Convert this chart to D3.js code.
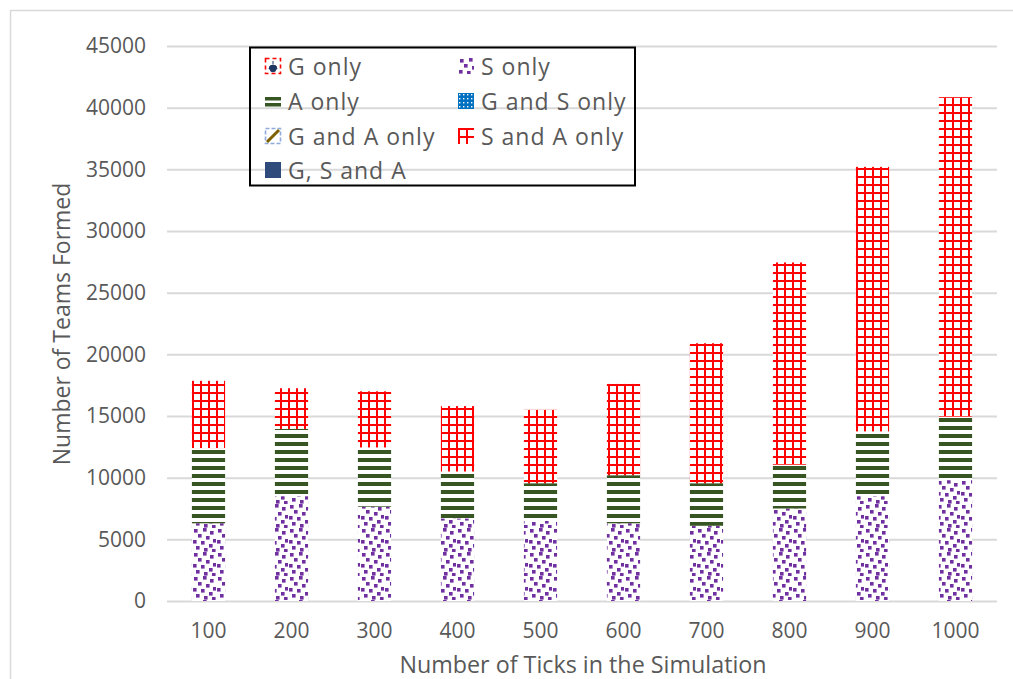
<!DOCTYPE html>
<html>
<head>
<meta charset="utf-8">
<script src="https://cdn.jsdelivr.net/npm/d3@7"></script>
<style>
  body { margin: 0; background: #fff; }
  svg { display: block; }
  text { font-family: "Open Sans", sans-serif; }
</style>
</head>
<body>
<svg id="chart" width="1013" height="679"></svg>
<script>
// Simulation length (ticks) on the category axis
const ticks = ["100", "200", "300", "400", "500", "600", "700", "800", "900", "1000"];

// Number of teams formed per composition
const gOnly    = [0, 0, 0, 0, 0, 0, 0, 0, 0, 0];
const sOnly    = [6300, 8500, 7650, 6700, 6500, 6300, 6100, 7500, 8500, 9800];
const aOnly    = [6100, 5450, 4800, 3800, 3050, 3900, 3450, 3550, 5250, 5150];
const gsOnly   = [0, 0, 0, 0, 0, 0, 0, 0, 0, 0];
const gaOnly   = [0, 0, 0, 0, 0, 0, 0, 0, 0, 0];
const saOnly   = [5450, 3300, 4550, 5300, 5950, 7400, 11350, 16400, 21450, 25900];
const gsaAll   = [0, 0, 0, 0, 0, 0, 0, 0, 0, 0];

const yTicks = [0, 5000, 10000, 15000, 20000, 25000, 30000, 35000, 40000, 45000];

const seriesNames = ["G only", "S only", "A only", "G and S only", "G and A only", "S and A only", "G, S and A"];
const seriesValues = [gOnly, sOnly, aOnly, gsOnly, gaOnly, saOnly, gsaAll];

const rows = ticks.map((t, i) => {
  const r = { tick: t };
  seriesNames.forEach((n, k) => { r[n] = seriesValues[k][i]; });
  return r;
});

const svg = d3.select("#chart");
const W = 1013, H = 679;
const plot = { left: 167, right: 997, top: 46, bottom: 601 };
const axisGrey = "#595959";
const gridGrey = "#d9d9d9";

// ---------- fill patterns ----------
const defs = svg.append("defs");

// purple confetti
const confetti = defs.append("pattern").attr("id", "pat-s")
  .attr("patternUnits", "userSpaceOnUse").attr("width", 24).attr("height", 24);
confetti.append("rect").attr("width", 24).attr("height", 24).attr("fill", "#fff");
[[2,1],[11,0],[18,3],[6,6],[14,8],[21,11],[1,12],[9,13],[17,16],[4,18],[12,20],[20,21]]
  .forEach(([x, y]) => confetti.append("rect").attr("x", x).attr("y", y)
    .attr("width", 3.6).attr("height", 3.6).attr("fill", "#7030a0"));

// dark green wide horizontal stripes
const stripes = defs.append("pattern").attr("id", "pat-a")
  .attr("patternUnits", "userSpaceOnUse").attr("width", 8).attr("height", 8);
stripes.append("rect").attr("width", 8).attr("height", 8).attr("fill", "#fff");
stripes.append("rect").attr("y", 2).attr("width", 8).attr("height", 4).attr("fill", "#375623");

// red grid
const grid = defs.append("pattern").attr("id", "pat-sa")
  .attr("patternUnits", "userSpaceOnUse").attr("width", 8).attr("height", 8);
grid.append("rect").attr("width", 8).attr("height", 8).attr("fill", "#fff");
grid.append("rect").attr("x", 0).attr("width", 2).attr("height", 8).attr("fill", "#ff0000");
grid.append("rect").attr("y", 0).attr("width", 8).attr("height", 2).attr("fill", "#ff0000");

// blue dotted
const dots = defs.append("pattern").attr("id", "pat-gs")
  .attr("patternUnits", "userSpaceOnUse").attr("width", 4).attr("height", 4);
dots.append("rect").attr("width", 4).attr("height", 4).attr("fill", "#0070c0");
dots.append("rect").attr("x", 1).attr("y", 1).attr("width", 1.4).attr("height", 1.4).attr("fill", "#fff");

const fills = {
  "G only": "#fff",
  "S only": "url(#pat-s)",
  "A only": "url(#pat-a)",
  "G and S only": "url(#pat-gs)",
  "G and A only": "#7f6000",
  "S and A only": "url(#pat-sa)",
  "G, S and A": "#2f4b7c"
};

// ---------- chart frame ----------
svg.append("rect").attr("x", 10.5).attr("y", 10.5).attr("width", W).attr("height", H)
  .attr("fill", "none").attr("stroke", gridGrey).attr("stroke-width", 1.5);

// ---------- scales ----------
const x = d3.scaleBand().domain(ticks).range([plot.left, plot.right])
  .paddingInner(0.6).paddingOuter(0.3);
const y = d3.scaleLinear().domain([0, 45000]).range([plot.bottom, plot.top]);

// gridlines + y labels
const yAxis = d3.axisLeft(y).tickValues(yTicks).tickSize(-(plot.right - plot.left)).tickPadding(21)
  .tickFormat(d3.format("d"));
const gy = svg.append("g").attr("transform", `translate(${plot.left},0)`).call(yAxis);
gy.select(".domain").remove();
gy.selectAll(".tick line").attr("stroke", gridGrey).attr("stroke-width", 2);
gy.selectAll(".tick text").attr("fill", axisGrey).style("font-size", "21px")
  .style("font-family", "'Open Sans', sans-serif");

// x labels
const xAxis = d3.axisBottom(x).tickSize(0).tickPadding(22);
const gx = svg.append("g").attr("transform", `translate(0,${plot.bottom})`).call(xAxis);
gx.select(".domain").remove();
gx.selectAll(".tick text").attr("fill", axisGrey).style("font-size", "21px")
  .style("font-family", "'Open Sans', sans-serif");

// ---------- stacked bars ----------
const stack = d3.stack().keys(seriesNames)(rows);
svg.append("g").selectAll("g").data(stack).join("g")
  .attr("fill", d => fills[d.key])
  .selectAll("rect").data(d => d).join("rect")
  .attr("x", d => x(d.data.tick))
  .attr("width", x.bandwidth())
  .attr("y", d => y(d[1]))
  .attr("height", d => y(d[0]) - y(d[1]));

// ---------- axis titles ----------
svg.append("text").attr("x", 583).attr("y", 673).attr("text-anchor", "middle")
  .attr("fill", axisGrey).style("font-size", "23.3px").text("Number of Ticks in the Simulation");
svg.append("text").attr("transform", "translate(70,324) rotate(-90)").attr("text-anchor", "middle")
  .attr("fill", axisGrey).style("font-size", "23px").text("Number of Teams Formed");

// ---------- legend ----------
const lg = svg.append("g");
lg.append("rect").attr("x", 250).attr("y", 47.5).attr("width", 385).attr("height", 138)
  .attr("fill", "none").attr("stroke", "#000").attr("stroke-width", 2);

const colX = [265, 458];
const rowY = [66, 101, 136, 170];
seriesNames.forEach((name, i) => {
  const cx = colX[i % 2], cy = rowY[Math.floor(i / 2)];
  const sw = lg.append("g").attr("transform", `translate(${cx},${cy - 8})`);
  if (name === "G only") {
    sw.append("rect").attr("x", 0.5).attr("y", 0.5).attr("width", 15).attr("height", 15)
      .attr("fill", "#fff").attr("stroke", "#ff0000").attr("stroke-width", 1.6).attr("stroke-dasharray", "4 3");
    sw.append("path").attr("d", "M8,3 L8,6 M4,11 A4,4 0 0 1 12,11 Z").attr("stroke", "#1f3864")
      .attr("stroke-width", 1).attr("fill", "#1f3864");
    sw.append("circle").attr("cx", 8).attr("cy", 11).attr("r", 3.2).attr("fill", "#1f3864");
  } else if (name === "A only") {
    sw.append("rect").attr("x", 0).attr("y", 4).attr("width", 16).attr("height", 3.5).attr("fill", "#375623");
    sw.append("rect").attr("x", 0).attr("y", 10).attr("width", 16).attr("height", 3.5).attr("fill", "#375623");
  } else if (name === "G and A only") {
    sw.append("rect").attr("x", 0.5).attr("y", 0.5).attr("width", 15).attr("height", 15)
      .attr("fill", "#fff").attr("stroke", "#8faadc").attr("stroke-width", 1.6).attr("stroke-dasharray", "4 2");
    sw.append("line").attr("x1", 2).attr("y1", 14).attr("x2", 14).attr("y2", 2)
      .attr("stroke", "#7f6000").attr("stroke-width", 3);
  } else {
    sw.append("rect").attr("width", 16).attr("height", 16).attr("fill", fills[name]);
  }
  lg.append("text").attr("x", cx + 23).attr("y", cy + 9).attr("fill", axisGrey)
    .style("font-size", "23px").style("letter-spacing", "1px").text(name);
});
</script>
</body>
</html>
